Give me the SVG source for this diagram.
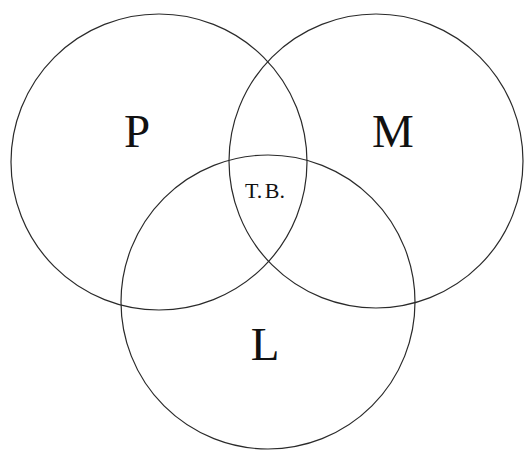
<svg xmlns="http://www.w3.org/2000/svg" width="524" height="450" viewBox="0 0 524 450">
<style>
.c{fill:none;stroke:#2a2a2a;stroke-width:1.2}
.t{font-family:"Liberation Serif",serif;fill:#111;text-anchor:middle}
.big{font-size:47px}
.sm{font-size:22px;word-spacing:-3px}
</style>
<rect width="524" height="450" fill="#fff"/>
<g id="P"><circle class="c" cx="159" cy="162" r="148"/><text class="t big" x="137" y="147">P</text></g>
<g id="M"><circle class="c" cx="376" cy="161" r="147"/><text class="t big" x="393" y="147">M</text></g>
<g id="L"><circle class="c" cx="268" cy="302" r="147"/><text class="t big" x="265" y="360">L</text></g>
<g id="TB"><text class="t sm" x="265" y="198">T. B.</text></g>
</svg>
